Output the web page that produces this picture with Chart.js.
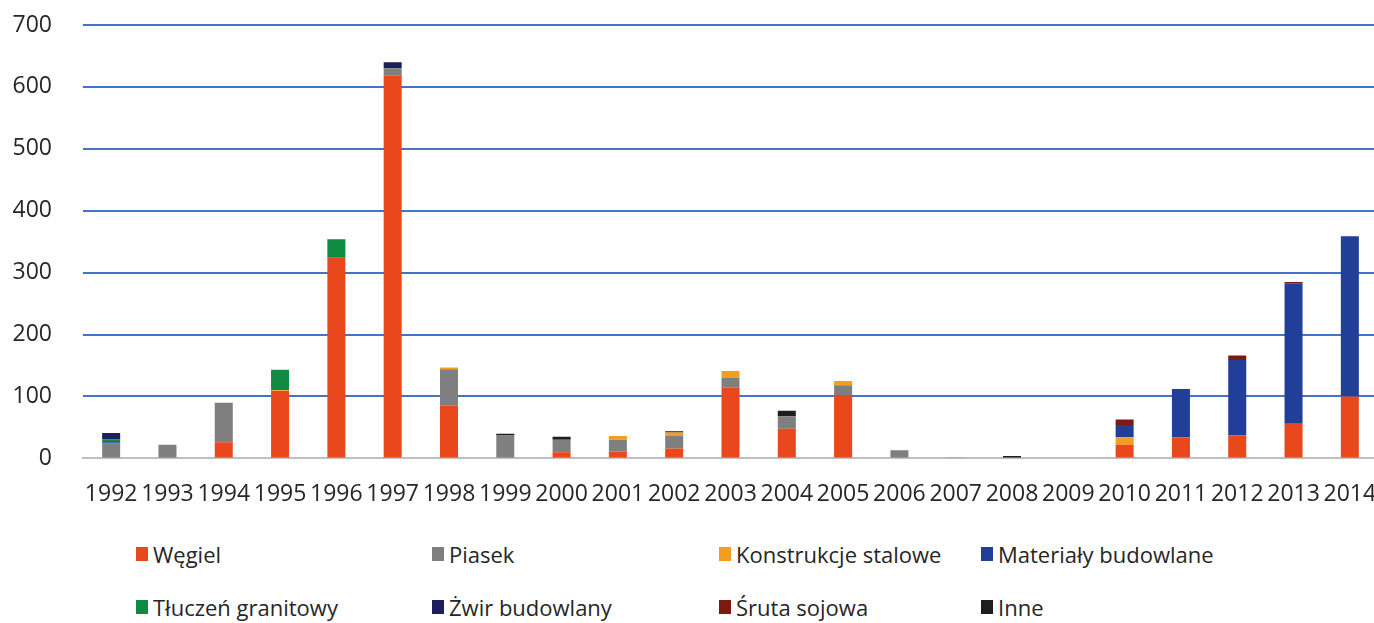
<!DOCTYPE html>
<html>
<head>
<meta charset="utf-8">
<script src="https://cdn.jsdelivr.net/npm/chart.js@4"></script>
<style>
  html, body { margin: 0; padding: 0; background: #fff; overflow: hidden; }
  body { width: 1374px; height: 623px; position: relative; }
  #wrap { position: absolute; left: 0; top: 0; width: 1378px; height: 512px; }
  #legend {
    position: absolute; left: 136px; top: 527px;
    display: grid; grid-template-columns: 296px 287px 262px auto;
    grid-auto-rows: 53px; align-items: center;
    font-family: 'Open Sans', sans-serif; font-size: 22px; color: #262626;
  }
  #legend .item { display: flex; align-items: center; white-space: nowrap; }
  #legend .box { width: 12px; height: 14px; margin-right: 5px; }
</style>
</head>
<body>
<div id="wrap"><canvas id="chart"></canvas></div>
<div id="legend"></div>
<script>
// lata
const years = ['1992','1993','1994','1995','1996','1997','1998','1999','2000','2001','2002','2003','2004','2005','2006','2007','2008','2009','2010','2011','2012','2013','2014'];

// wartości
const wegiel      = [0, 0, 26, 109, 324, 618, 85, 0, 10, 11, 16, 114, 48, 102, 0, 0, 0, 0, 22, 34, 37, 56, 100];
const piasek      = [24, 22, 64, 0, 0, 12, 59, 37, 20, 19, 20, 16, 20, 16, 13, 2, 0, 0, 0, 0, 0, 0, 0];
const konstrukcje = [0, 0, 0, 1, 0, 0, 3, 0, 0, 6, 6, 11, 0, 7, 0, 0, 0, 1.5, 12, 0, 0, 0, 0];
const materialy   = [2, 0, 0, 0, 0, 0, 0, 0, 0, 0, 0, 0, 0, 0, 0, 0, 0, 0, 20, 78, 122, 227, 259];
const tluczen     = [5, 0, 0, 33, 30, 0, 0, 0, 0, 0, 0, 0, 0, 0, 0, 0, 0, 0, 0, 0, 0, 0, 0];
const zwir        = [10, 0, 0, 0, 0, 10, 0, 0, 0, 0, 0, 0, 0, 0, 0, 0, 0, 0, 0, 0, 0, 0, 0];
const sruta       = [0, 0, 0, 0, 0, 0, 0, 0, 0, 0, 0, 0, 0, 0, 0, 0, 0, 0, 9, 0, 7, 2, 0];
const inne        = [0, 0, 0, 0, 0, 0, 0, 3, 5, 0, 2, 0, 9, 0, 0, 0, 4, 0, 0, 0, 0, 0, 0];

const yTicks = [0, 100, 200, 300, 400, 500, 600, 700];

const series = [
  { label: 'Węgiel', data: wegiel, color: '#E8481C' },
  { label: 'Piasek', data: piasek, color: '#7F7F7F' },
  { label: 'Konstrukcje stalowe', data: konstrukcje, color: '#F59D1E' },
  { label: 'Materiały budowlane', data: materialy, color: '#213F99' },
  { label: 'Tłuczeń granitowy', data: tluczen, color: '#0E8A43' },
  { label: 'Żwir budowlany', data: zwir, color: '#1C1F5A' },
  { label: 'Śruta sojowa', data: sruta, color: '#7A1A12' },
  { label: 'Inne', data: inne, color: '#1E1E1E' }
];

const font = { family: "'Open Sans', sans-serif", size: 23 };

new Chart(document.getElementById('chart'), {
  type: 'bar',
  data: {
    labels: years,
    datasets: series.map(s => ({
      label: s.label,
      data: s.data,
      backgroundColor: s.color,
      borderWidth: 0,
      categoryPercentage: 1,
      barPercentage: 0.32
    }))
  },
  options: {
    responsive: true,
    maintainAspectRatio: false,
    animation: false,
    layout: { padding: { left: 10, right: 0, top: 25, bottom: 4 } },
    plugins: { legend: { display: false }, tooltip: { enabled: false } },
    scales: {
      x: {
        stacked: true,
        // niewidoczne kreski podziałki odsuwają etykiety od osi
        grid: { display: true, drawOnChartArea: false, drawTicks: true, tickLength: 22, tickColor: 'rgba(0,0,0,0)' },
        border: { display: true, color: '#BFBFBF', width: 2 },
        ticks: { color: '#262626', font: font, padding: 0, autoSkip: false, maxRotation: 0 }
      },
      y: {
        stacked: true,
        min: 0,
        max: 700,
        afterBuildTicks: axis => { axis.ticks = yTicks.map(v => ({ value: v })); },
        afterFit: axis => {
          axis.width = 73;
          axis.paddingTop = 0;
          axis.paddingBottom = 0;
        },
        grid: {
          drawTicks: false,
          lineWidth: 2,
          color: ctx => ctx.tick && ctx.tick.value === 0 ? '#BFBFBF' : '#4472C4'
        },
        border: { display: false },
        ticks: { color: '#262626', font: font, padding: 31 }
      }
    }
  }
});

// legenda jako HTML (kolumny wyrównane jak w oryginale)
const legend = document.getElementById('legend');
series.forEach(s => {
  const item = document.createElement('div');
  item.className = 'item';
  const box = document.createElement('span');
  box.className = 'box';
  box.style.background = s.color;
  const txt = document.createElement('span');
  txt.textContent = s.label;
  item.appendChild(box);
  item.appendChild(txt);
  legend.appendChild(item);
});
</script>
</body>
</html>
